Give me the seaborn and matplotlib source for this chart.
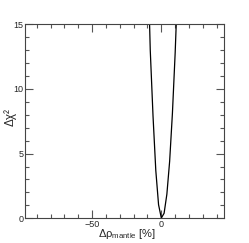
import numpy as np
import pandas as pd
import seaborn as sns
import matplotlib.pyplot as plt
from matplotlib.ticker import MultipleLocator

# Werte
drho = [-9, -8, -6, -4, -2, 0, 2, 4, 6, 8, 10, 12]
dchi2 = [17.1, 13.0, 7.9, 3.7, 1.05, 0.02, 0.39, 1.86, 4.4, 8.1, 12.8, 18.6]

df = pd.DataFrame({'drho': drho, 'dchi2': dchi2})

sns.set_style('ticks')
plt.rcParams['font.family'] = ['Liberation Sans', 'DejaVu Sans']
plt.rcParams['mathtext.fontset'] = 'custom'
plt.rcParams['mathtext.rm'] = 'Liberation Sans'
plt.rcParams['mathtext.it'] = 'Liberation Sans'

fig = plt.figure(figsize=(2.49, 2.43), dpi=100)
ax = fig.add_axes([0.100, 0.1016, 0.801, 0.7994])

sns.lineplot(data=df, x='drho', y='dchi2', ax=ax, color='black', linewidth=0.9, sort=False)

ax.set_xlim(-98.5, 45.5)
ax.set_ylim(0, 15)
ax.xaxis.set_major_locator(MultipleLocator(50))
ax.xaxis.set_minor_locator(MultipleLocator(10))
ax.yaxis.set_major_locator(MultipleLocator(5))
ax.yaxis.set_minor_locator(MultipleLocator(1))
ax.tick_params(which='both', direction='in', top=True, right=True, labelsize=6.5, pad=1,
               color='#555555')
ax.tick_params(which='major', length=6, width=0.8)
ax.tick_params(which='minor', length=3, width=0.8)
for s in ax.spines.values():
    s.set_linewidth(0.8)
    s.set_color('#444444')

ax.set_xlabel('')
ax.set_ylabel('')
fig.text(0.508, 0.024, r'$\Delta\rho_{\mathrm{mantle}}$ [%]', fontsize=8, ha='center', va='baseline')
fig.text(0.040, 0.52, 'Δχ²', fontsize=8.5, rotation=90, ha='center', va='center')

fig.savefig('out.png', dpi=100)
